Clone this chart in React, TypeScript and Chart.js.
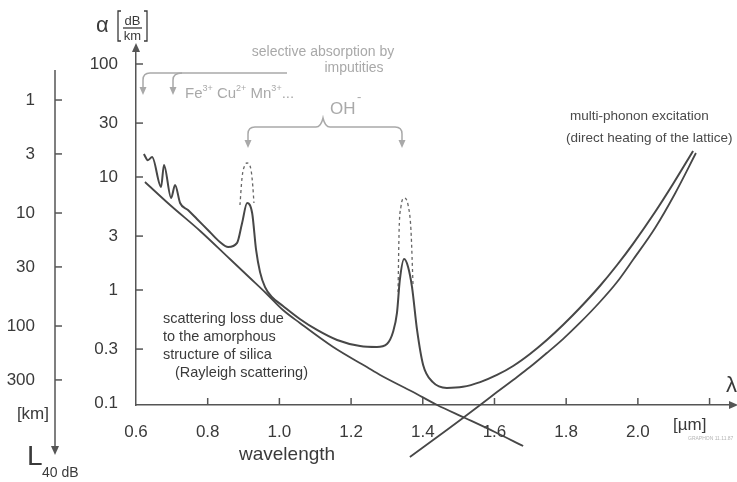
import React, { useEffect, useRef } from 'react';
import { Chart, registerables } from 'chart.js';

Chart.register(...registerables);

// ---- data (wavelength in µm, attenuation α in dB/km) ----
const totalLambda = [0.622, 0.633, 0.645, 0.670, 0.678, 0.698, 0.709, 0.723, 0.745, 0.770, 0.806, 0.834, 0.857, 0.882, 0.896, 0.910, 0.924, 0.935, 0.946, 0.960, 0.979, 1.010, 1.057, 1.105, 1.161, 1.225, 1.272, 1.300, 1.317, 1.328, 1.336, 1.348, 1.359, 1.370, 1.384, 1.401, 1.428, 1.467, 1.512, 1.560, 1.607, 1.652, 1.699, 1.746, 1.791, 1.838, 1.894, 1.942, 1.986, 2.048, 2.098, 2.154];
const totalAlpha = [16.0, 14.1, 15.0, 8.16, 12.8, 6.52, 8.5, 5.89, 5.10, 4.25, 3.26, 2.66, 2.40, 2.61, 3.92, 5.89, 4.80, 2.26, 1.44, 1.06, 0.867, 0.722, 0.554, 0.443, 0.361, 0.319, 0.313, 0.333, 0.425, 0.626, 1.23, 1.88, 1.60, 1.06, 0.443, 0.217, 0.153, 0.136, 0.139, 0.153, 0.177, 0.2126, 0.2715, 0.361, 0.490, 0.693, 1.085, 1.664, 2.55, 4.90, 8.67, 17.0];

const rayleighLambda = [0.625, 0.695, 0.779, 0.862, 0.918, 0.965, 1.010, 1.057, 1.150, 1.244, 1.281, 1.373, 1.440, 1.518, 1.601, 1.680];
const rayleighAlpha = [9.03, 5.65, 3.33, 1.88, 1.277, 0.922, 0.665, 0.511, 0.313, 0.208, 0.177, 0.125, 0.0960, 0.0737, 0.0554, 0.0416];

const irLambda = [1.364, 1.467, 1.512, 1.560, 1.607, 1.652, 1.699, 1.746, 1.791, 1.838, 1.894, 1.942, 1.986, 2.048, 2.103, 2.162];
const irAlpha = [0.0333, 0.0577, 0.0737, 0.0960, 0.125, 0.160, 0.208, 0.277, 0.368, 0.511, 0.783, 1.177, 1.843, 3.54, 7.08, 16.3];

const oh1Lambda = [0.890, 0.896, 0.904, 0.910, 0.921, 0.926, 0.929];
const oh1Alpha = [5.65, 10.0, 12.8, 13.3, 11.5, 8.16, 5.89];

const oh2Lambda = [1.331, 1.334, 1.339, 1.348, 1.359, 1.367, 1.373];
const oh2Alpha = [0.960, 3.40, 5.43, 6.52, 5.65, 3.40, 1.06];

const xTickValues = [0.6, 0.8, 1.0, 1.2, 1.4, 1.6, 1.8, 2.0, 2.2];
const xTickLabels = ['0.6', '0.8', '1.0', '1.2', '1.4', '1.6', '1.8', '2.0', ''];
const yTickValues = [0.1, 0.3, 1, 3, 10, 30, 100];
const yTickLabels = ['0.1', '0.3', '1', '3', '10', '30', '100'];
const lTickValues = [1, 3, 10, 30, 100, 300];
const lTickLabels = ['1', '3', '10', '30', '100', '300'];

// ---- style ----
const FONT = "'Liberation Sans', Arial, Helvetica, sans-serif";
const CURVE = '#474747';
const AXIS = '#555555';
const TEXT = '#3a3a3a';
const PALE = '#a9a9a9';

const pts = (xs: number[], ys: number[]) => xs.map((x, i) => ({ x, y: ys[i] }));

function arrowDown(ctx: CanvasRenderingContext2D, x: number, tip: number, w = 3.5, h = 8) {
  ctx.beginPath();
  ctx.moveTo(x - w, tip - h);
  ctx.lineTo(x + w, tip - h);
  ctx.lineTo(x, tip);
  ctx.closePath();
  ctx.fill();
}

const decor = {
  id: 'decor',
  afterDraw(chart: any) {
    const ctx: CanvasRenderingContext2D = chart.ctx;
    const { x, y, yL } = chart.scales;
    const a = chart.chartArea;
    ctx.save();
    ctx.strokeStyle = AXIS;
    ctx.fillStyle = AXIS;
    ctx.lineWidth = 1.5;
    const seg = (x1: number, y1: number, x2: number, y2: number) => {
      ctx.beginPath(); ctx.moveTo(x1, y1); ctx.lineTo(x2, y2); ctx.stroke();
    };
    // inward tick marks on main axes
    yTickValues.forEach(v => { const py = y.getPixelForValue(v); if (v > 0.1) seg(a.left, py, a.left + 7, py); });
    xTickValues.forEach(v => { if (v > 0.6) { const px = x.getPixelForValue(v); seg(px, a.bottom, px, a.bottom - 7); } });
    // axis arrows
    ctx.beginPath(); ctx.moveTo(a.left - 4, a.top); ctx.lineTo(a.left + 4, a.top); ctx.lineTo(a.left, a.top - 9); ctx.closePath(); ctx.fill();
    seg(a.right, a.bottom, 730, a.bottom);
    ctx.beginPath(); ctx.moveTo(729, a.bottom - 4); ctx.lineTo(729, a.bottom + 4); ctx.lineTo(738, a.bottom); ctx.closePath(); ctx.fill();
    // L axis (secondary, km)
    seg(55, 70, 55, 447);
    arrowDown(ctx, 55, 455, 4, 9);
    lTickValues.forEach(v => { const py = yL.getPixelForValue(v); seg(55, py, 62, py); });

    // texts
    ctx.fillStyle = TEXT;
    ctx.textBaseline = 'alphabetic';
    ctx.textAlign = 'left';
    ctx.font = `22px ${FONT}`;
    ctx.fillText('α', 96, 32);
    // [dB/km]
    ctx.lineWidth = 1.3;
    ctx.strokeStyle = TEXT;
    ctx.beginPath(); ctx.moveTo(121, 11); ctx.lineTo(118, 11); ctx.lineTo(118, 41); ctx.lineTo(121, 41); ctx.stroke();
    ctx.beginPath(); ctx.moveTo(144, 11); ctx.lineTo(147, 11); ctx.lineTo(147, 41); ctx.lineTo(144, 41); ctx.stroke();
    seg(123, 28, 142, 28);
    ctx.textAlign = 'center';
    ctx.font = `13px ${FONT}`;
    ctx.fillText('dB', 132.5, 25);
    ctx.fillText('km', 132.5, 40);

    ctx.textAlign = 'right';
    ctx.font = `17px ${FONT}`;
    ctx.fillText('[km]', 49, 419);
    ctx.textAlign = 'left';
    ctx.font = `28px ${FONT}`;
    ctx.fillText('L', 27, 465);
    ctx.font = `14px ${FONT}`;
    ctx.fillText('40 dB', 42, 477);

    ctx.font = `19px ${FONT}`;
    ctx.fillText('wavelength', 239, 460);
    ctx.font = `17px ${FONT}`;
    ctx.fillText('[µm]', 673, 430);
    ctx.font = `22px ${FONT}`;
    ctx.fillText('λ', 726, 392);
    ctx.fillStyle = '#b5b5b5';
    ctx.font = `5px ${FONT}`;
    ctx.fillText('GRAPHON 11.11.87', 688, 440);

    // Rayleigh note
    ctx.fillStyle = TEXT;
    ctx.font = `14.5px ${FONT}`;
    ctx.fillText('scattering loss due', 163, 323);
    ctx.fillText('to the amorphous', 163, 341);
    ctx.fillText('structure of silica', 163, 359);
    ctx.fillText('(Rayleigh scattering)', 175, 377);

    // multi-phonon note
    ctx.fillStyle = '#4a4a4a';
    ctx.font = `13.5px ${FONT}`;
    ctx.fillText('multi-phonon excitation', 570, 120);
    ctx.fillText('(direct heating of the lattice)', 566, 142);

    // impurity annotations (pale)
    ctx.fillStyle = PALE;
    ctx.strokeStyle = PALE;
    ctx.textAlign = 'center';
    ctx.font = `14px ${FONT}`;
    ctx.fillText('selective absorption by', 323, 56);
    ctx.fillText('imputities', 354, 72);
    ctx.textAlign = 'left';
    let cx = 185;
    const parts: [string, boolean][] = [['Fe', false], ['3+', true], [' Cu', false], ['2+', true], [' Mn', false], ['3+', true], ['...', false]];
    parts.forEach(([t, sup]) => {
      ctx.font = sup ? `9px ${FONT}` : `15px ${FONT}`;
      ctx.fillText(t, cx, sup ? 91 : 98);
      cx += ctx.measureText(t).width;
    });
    ctx.font = `17px ${FONT}`;
    ctx.fillText('OH', 330, 114);
    ctx.font = `13px ${FONT}`;
    ctx.fillText('-', 357, 101);

    ctx.lineWidth = 1.5;
    // metal ion bracket
    ctx.beginPath();
    ctx.moveTo(287, 73);
    ctx.lineTo(150, 73);
    ctx.quadraticCurveTo(143, 73, 143, 80);
    ctx.lineTo(143, 87);
    ctx.stroke();
    arrowDown(ctx, 143, 95);
    ctx.beginPath();
    ctx.moveTo(182, 73);
    ctx.quadraticCurveTo(173, 73, 173, 80);
    ctx.lineTo(173, 87);
    ctx.stroke();
    arrowDown(ctx, 173, 95);
    // OH brace
    ctx.beginPath();
    ctx.moveTo(248, 140);
    ctx.lineTo(248, 134);
    ctx.quadraticCurveTo(248, 127, 255, 127);
    ctx.lineTo(316, 127);
    ctx.quadraticCurveTo(321, 127, 323, 118);
    ctx.quadraticCurveTo(325, 127, 330, 127);
    ctx.lineTo(395, 127);
    ctx.quadraticCurveTo(402, 127, 402, 134);
    ctx.lineTo(402, 140);
    ctx.stroke();
    arrowDown(ctx, 248, 148);
    arrowDown(ctx, 402, 148);
    ctx.restore();
  },
};

export default function App() {
  const ref = useRef<HTMLCanvasElement>(null);
  useEffect(() => {
    const canvas = ref.current!;
    const curve = (xs: number[], ys: number[], color: string, width: number, dash: number[] = []) => ({
      data: pts(xs, ys),
      borderColor: color,
      borderWidth: width,
      borderDash: dash,
      pointRadius: 0,
      fill: false,
      cubicInterpolationMode: 'monotone' as const,
      clip: false as any,
    });
    const chart = new Chart(canvas, {
      type: 'line',
      data: {
        datasets: [
          curve(totalLambda, totalAlpha, CURVE, 2),
          curve(rayleighLambda, rayleighAlpha, CURVE, 1.8),
          curve(irLambda, irAlpha, CURVE, 1.8),
          curve(oh1Lambda, oh1Alpha, '#666666', 1.3, [3, 3]),
          curve(oh2Lambda, oh2Alpha, '#666666', 1.3, [3, 3]),
        ] as any,
      },
      options: {
        responsive: false,
        maintainAspectRatio: false,
        animation: false,
        events: [],
        layout: { padding: { left: 0, top: 52, right: 7, bottom: 0 } },
        plugins: { legend: { display: false }, tooltip: { enabled: false } },
        scales: {
          x: {
            type: 'linear',
            position: 'bottom',
            min: 0.6,
            max: 2.257,
            grid: { display: false },
            border: { display: true, color: AXIS, width: 1.5 },
            afterBuildTicks: (s: any) => { s.ticks = xTickValues.map(v => ({ value: v })); },
            afterFit: (s: any) => { s.height = 77; },
            ticks: {
              autoSkip: false,
              maxRotation: 0,
              padding: 9,
              color: TEXT,
              font: { family: FONT, size: 17 },
              callback: (_v: any, i: number) => xTickLabels[i],
            },
          },
          y: {
            type: 'logarithmic',
            position: 'left',
            weight: 0,
            min: 0.096,
            max: 127.7,
            grid: { display: false },
            border: { display: true, color: AXIS, width: 1.5 },
            afterBuildTicks: (s: any) => { s.ticks = yTickValues.map(v => ({ value: v })); },
            afterFit: (s: any) => { s.width = 81; },
            ticks: {
              autoSkip: false,
              padding: 10,
              color: TEXT,
              font: { family: FONT, size: 17 },
              callback: (_v: any, i: number) => yTickLabels[i],
            },
          },
          yL: {
            type: 'logarithmic',
            axis: 'y',
            position: 'left',
            weight: 1,
            display: true,
            reverse: true,
            min: 0.3759,
            max: 500,
            grid: { display: false },
            border: { display: false },
            afterBuildTicks: (s: any) => { s.ticks = lTickValues.map(v => ({ value: v })); },
            afterFit: (s: any) => { s.width = 55; },
            ticks: {
              autoSkip: false,
              padding: 12,
              color: TEXT,
              font: { family: FONT, size: 17 },
              callback: (_v: any, i: number) => lTickLabels[i],
            },
          },
        } as any,
      },
      plugins: [decor],
    });
    return () => chart.destroy();
  }, []);
  return (
    <div style={{ position: 'absolute', left: 0, top: 0, width: 737, height: 482, background: '#fff' }}>
      <canvas ref={ref} width={737} height={482} style={{ display: 'block', width: 737, height: 482 }} />
    </div>
  );
}
